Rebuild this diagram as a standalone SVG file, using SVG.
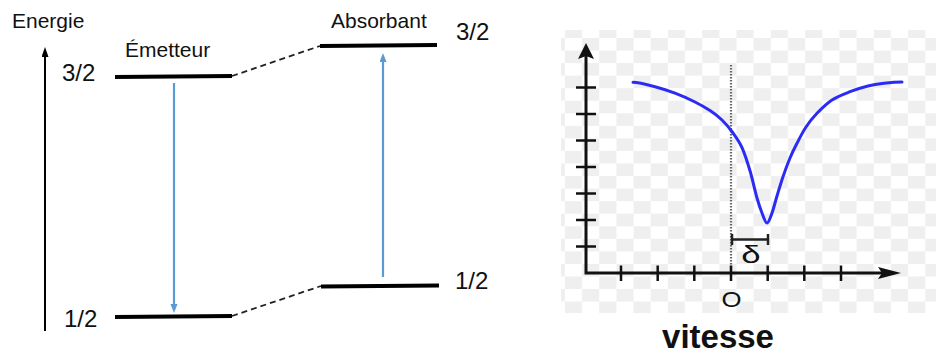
<svg xmlns="http://www.w3.org/2000/svg" width="936" height="358" viewBox="0 0 936 358">
<style>
  .lbl{font-family:"Liberation Sans",Arial,sans-serif;fill:#111}
  .lvl{stroke:#000;stroke-width:4;fill:none}
  .dash{stroke:#222;stroke-width:1.8;stroke-dasharray:6 4;fill:none}
  .blue{stroke:#5b9bd5;stroke-width:2.2;fill:none}
  .ax{stroke:#111;stroke-width:3;fill:none}
  .tick{stroke:#111;stroke-width:2.5;fill:none}
</style>
<defs>
  <pattern id="chk" patternUnits="userSpaceOnUse" x="564.9" y="25.45" width="34.32" height="25.1">
    <rect x="0" y="0" width="34.32" height="25.1" fill="#ffffff"/>
    <rect x="0" y="0" width="17.16" height="12.55" fill="#efefef"/>
    <rect x="17.16" y="12.55" width="17.16" height="12.55" fill="#efefef"/>
  </pattern>
  <marker id="ab" markerUnits="userSpaceOnUse" markerWidth="10" markerHeight="8" refX="0" refY="3.5" orient="auto">
    <path d="M0,0 L9,3.5 L0,7 Z" fill="#5b9bd5"/>
  </marker>
  <marker id="ak" markerUnits="userSpaceOnUse" markerWidth="11" markerHeight="8" refX="0" refY="3.5" orient="auto">
    <path d="M0,0 L10,3.5 L0,7 Z" fill="#000"/>
  </marker>
</defs>
<rect width="936" height="358" fill="#fff"/>

<!-- Left: energy level diagram -->
<g id="energie-label"><text class="lbl" x="12" y="28" font-size="21">Energie</text></g>
<g id="emetteur">
  <text class="lbl" x="125" y="57" font-size="21">Émetteur</text>
  <line class="lvl" x1="115" y1="77" x2="232" y2="76"/>
  <line class="lvl" x1="115" y1="317" x2="232" y2="316"/>
  <text class="lbl" x="62" y="81" font-size="24">3/2</text>
  <text class="lbl" x="64" y="327" font-size="24">1/2</text>
</g>
<g id="absorbant">
  <text class="lbl" x="331" y="28" font-size="21">Absorbant</text>
  <line class="lvl" x1="320" y1="46" x2="437" y2="45"/>
  <line class="lvl" x1="321" y1="286.5" x2="439" y2="285.5"/>
  <text class="lbl" x="456" y="40" font-size="24">3/2</text>
  <text class="lbl" x="455" y="289" font-size="24">1/2</text>
</g>
<g id="connectors">
  <line x1="45" y1="331" x2="45" y2="57" stroke="#000" stroke-width="2" marker-end="url(#ak)"/>
  <line class="dash" x1="232" y1="76" x2="320" y2="46"/>
  <line class="dash" x1="232" y1="316" x2="321" y2="286"/>
  <line class="blue" x1="174" y1="83" x2="174" y2="304" marker-end="url(#ab)"/>
  <line class="blue" x1="383" y1="277" x2="383" y2="62" marker-end="url(#ab)"/>
</g>

<!-- Right: graph -->
<g id="graph">
  <rect x="561" y="30" width="375" height="283" fill="url(#chk)"/>
  <line x1="731" y1="65" x2="731" y2="273" stroke="#666" stroke-width="2.2" stroke-dasharray="1.5 1.5"/>
  <path class="ax" d="M586,56 L586,273 L882,273"/>
  <path d="M586,43 L578,59 L586,56 L594,59 Z" fill="#111"/>
  <path d="M901,273 L878,267 L882,273 L878,279 Z" fill="#111"/>
  <g class="tick">
    <line x1="576" y1="87.5" x2="596" y2="87.5"/>
    <line x1="576" y1="114" x2="596" y2="114"/>
    <line x1="576" y1="140.5" x2="596" y2="140.5"/>
    <line x1="576" y1="167" x2="596" y2="167"/>
    <line x1="576" y1="193.5" x2="596" y2="193.5"/>
    <line x1="576" y1="220" x2="596" y2="220"/>
    <line x1="576" y1="246.5" x2="596" y2="246.5"/>
    <line x1="621" y1="265.5" x2="621" y2="281"/>
    <line x1="657.7" y1="265.5" x2="657.7" y2="281"/>
    <line x1="694.3" y1="265.5" x2="694.3" y2="281"/>
    <line x1="731" y1="265.5" x2="731" y2="281"/>
    <line x1="767.7" y1="265.5" x2="767.7" y2="281"/>
    <line x1="804.3" y1="265.5" x2="804.3" y2="281"/>
    <line x1="841" y1="265.5" x2="841" y2="281"/>
  </g>
  <path d="M633,82.3 C636.67,82.3 648,84.88 655,86.7 C662,88.52 668.33,90.65 675,93.2 C681.67,95.75 689.17,99.1 695,102 C700.83,104.9 705.5,107.6 710,110.6 C714.5,113.6 718.17,116.27 722,120 C725.83,123.73 729.67,128.4 733,133 C736.33,137.6 739.17,141.3 742,147.6 C744.83,153.9 747.5,162.4 750,170.8 C752.5,179.2 755,190.97 757,198 C759,205.03 760.33,208.83 762,213 C763.67,217.17 765.33,223 767,223 C768.67,223 770.33,217.5 772,213 C773.67,208.5 775.17,202.05 777,196 C778.83,189.95 780.83,183.03 783,176.7 C785.17,170.37 787.67,163.57 790,158 C792.33,152.43 794.33,148.47 797,143.3 C799.67,138.13 802.67,132 806,127 C809.33,122 812.67,117.8 817,113.3 C821.33,108.8 826.5,103.6 832,100 C837.5,96.4 844,94.03 850,91.7 C856,89.37 862.33,87.4 868,86 C873.67,84.6 878.33,83.97 884,83.3 C889.67,82.63 899,82 902,82" fill="none" stroke="#2b2bf5" stroke-width="3" stroke-linecap="round" stroke-linejoin="round"/>
  <g stroke="#222" stroke-width="2.5">
    <line x1="731" y1="239.5" x2="768" y2="239.5"/>
    <line x1="768" y1="234" x2="768" y2="245"/>
    <line x1="732" y1="234" x2="732" y2="245"/>
  </g>
  <text class="lbl" font-size="24" text-anchor="middle" transform="translate(751,263) scale(1.45,1)" fill="#222">δ</text>
  <text class="lbl" font-size="23" text-anchor="middle" transform="translate(731.5,306.5) scale(1.12,1)" fill="#222">O</text>
  <text class="lbl" x="718" y="348" font-size="33" font-weight="bold" text-anchor="middle">vitesse</text>
</g>
</svg>
